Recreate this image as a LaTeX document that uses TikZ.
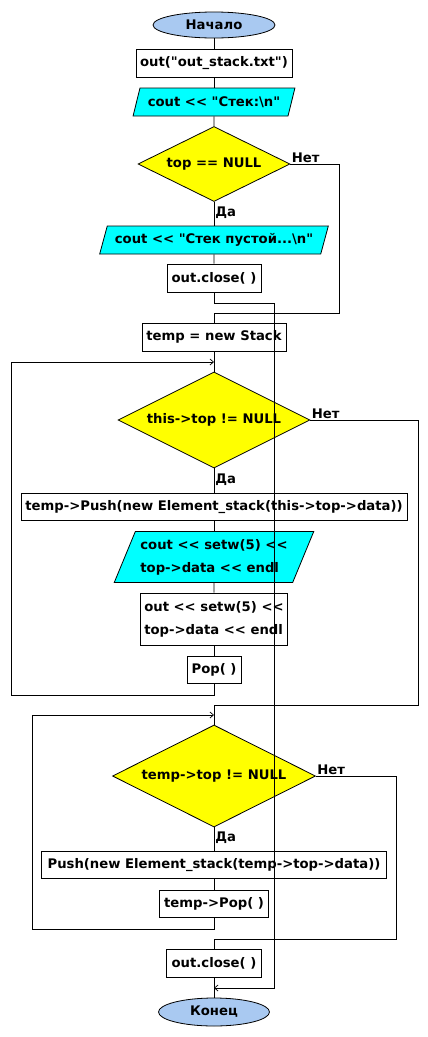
\documentclass[tikz,border=0pt]{standalone}
\usepackage{fontspec}
\setmainfont{DejaVu Sans}[Ligatures=TeXOff]
\usetikzlibrary{shapes.geometric,arrows.meta}
\definecolor{termblue}{RGB}{169,201,241}
\definecolor{ioblue}{RGB}{0,255,255}
\definecolor{condyel}{RGB}{255,255,0}
\begin{document}
\begin{tikzpicture}[x=1pt, y=-1pt, line width=0.8pt, >={Straight Barb[length=3.5pt,width=6pt,line width=0.7pt]},
    every node/.style={font=\fontsize{13.2}{23}\selectfont\bfseries, inner sep=2pt},
    term/.style={ellipse, draw, fill=termblue, minimum height=26pt},
    proc/.style={rectangle, draw, fill=white, minimum height=28pt, inner xsep=4pt},
    io/.style={trapezium, trapezium stretches=true, trapezium left angle=67, trapezium right angle=113, draw, fill=ioblue, minimum height=28pt},
    cond/.style={diamond, aspect=2, draw, fill=condyel, inner sep=0pt},
    lbl/.style={font=\fontsize{13.2}{16}\selectfont\bfseries, inner sep=1pt}]
        \useasboundingbox (0,0) rectangle (428,1037);

        \node[term, minimum width=122pt] (start) at (214,25) {Начало};
        \node[proc, minimum width=155pt] (fopen) at (214,63) {out("out\_stack.txt")};
        \node[io, minimum width=162pt] (hdr) at (214,102) {cout << "Стек:\textbackslash n"};
        \node[cond, minimum width=152pt, minimum height=75pt] (chk) at (214,164) {top == NULL};
        \node[io, minimum width=229pt] (empty) at (214,240) {cout << "Стек пустой...\textbackslash n"};
        \node[proc, minimum width=94pt] (close1) at (214,278) {out.close( )};
        \node[proc, minimum width=144pt] (mk) at (214,337) {temp = new Stack};
        \node[cond, minimum width=192pt, minimum height=96pt] (loop1) at (214,420) {this->top != NULL};
        \node[proc, minimum width=386pt, minimum height=27pt] (push1) at (214,507) {temp->Push(new Element\_stack(this->top->data))};
        \node[io, minimum width=200pt, minimum height=51pt, trapezium left angle=63, trapezium right angle=117,
              align=left] (show) at (214,557) {cout << setw(5) <<\\top->data << endl};
        \node[proc, minimum width=139pt, minimum height=52pt, align=left] (save) at (214,619) {out << setw(5) <<\\top->data << endl};
        \node[proc, minimum width=54pt, minimum height=27pt] (pop1) at (214,670) {Pop( )};
        \node[cond, minimum width=203pt, minimum height=102pt] (loop2) at (214,776) {temp->top != NULL};
        \node[proc, minimum width=345pt, minimum height=27pt] (push2) at (214,865) {Push(new Element\_stack(temp->top->data))};
        \node[proc, minimum width=109pt, minimum height=27pt] (pop2) at (214,904) {temp->Pop( )};
        \node[proc, minimum width=95pt] (close2) at (214,963) {out.close( )};
        \node[term, minimum width=111pt, minimum height=28pt] (stop) at (214,1012) {Конец};

        \coordinate (j1) at (214,313);
        \coordinate (l1) at (214,362);
        \coordinate (j2) at (214,705);
        \coordinate (l2) at (214,715);
        \coordinate (j3) at (214,939);
        \coordinate (j4) at (214,988);
        \coordinate (j4r) at (274,988);

        % straight run
        \draw (start) -- (fopen);
        \draw (fopen) -- (hdr);
        \draw (hdr) -- (chk);
        \draw (chk) -- node[lbl, right, pos=0.45] {Да} (empty);
        \draw (empty) -- (close1);
        \draw (j1) -- (mk);
        \draw (mk) -- (loop1);
        \draw (loop1) -- node[lbl, right, pos=0.45] {Да} (push1);
        \draw (push1) -- (show);
        \draw (show) -- (save);
        \draw (save) -- (pop1);
        \draw (j2) -- (loop2);
        \draw (loop2) -- node[lbl, right, pos=0.45] {Да} (push2);
        \draw (push2) -- (pop2);
        \draw (j3) -- (close2);
        \draw (close2) -- (stop);

        % branches
        \draw (chk.east) node[lbl, above right] {Нет} -- ++(49,0) |- (j1);
        \draw (loop1.east) node[lbl, above right] {Нет} -- ++(108,0) |- (j2);
        \draw (loop2.east) node[lbl, above right] {Нет} -- ++(80,0) |- (j3);

        % loops back
        \draw[->] (pop1.south) -- ++(0,11) -- ++(-203,0) |- (l1);
        \draw[->] (pop2.south) -- ++(0,11) -- ++(-182,0) |- (l2);

        % empty stack exit
        \draw[->] (close1.south) -- ++(0,11) -| (j4r) -- (j4);
\end{tikzpicture}
\end{document}
